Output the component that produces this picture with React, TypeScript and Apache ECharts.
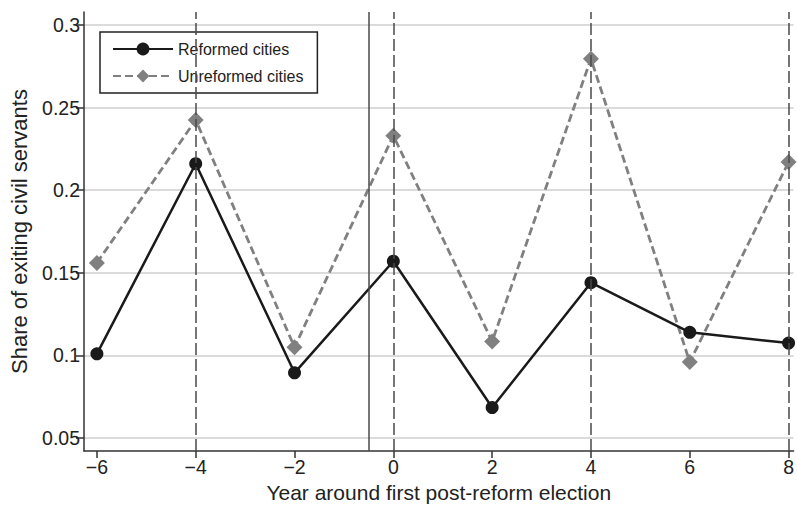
import React, { useEffect, useRef } from "react";
import * as echarts from "echarts";

const years = [-6, -4, -2, 0, 2, 4, 6, 8];
const reformed = [0.101, 0.216, 0.0895, 0.157, 0.0685, 0.144, 0.114, 0.1075];
const unreformed = [0.156, 0.2425, 0.105, 0.233, 0.1085, 0.2795, 0.096, 0.217];
const xTicks = [-6, -4, -2, 0, 2, 4, 6, 8];
const yTicks = [0.05, 0.1, 0.15, 0.2, 0.25, 0.3];
const dashedYears = [-4, 0, 4, 8];
const reformYear = [-0.5];
const seriesNames = ["Reformed cities", "Unreformed cities"];
const xTitle = "Year around first post-reform election";
const yTitle = "Share of exiting civil servants";

const FONT = "'Liberation Sans', Arial, Helvetica, sans-serif";

export default function App() {
  const ref = useRef<HTMLDivElement>(null);
  useEffect(() => {
    if (!ref.current) return;
    const chart = echarts.init(ref.current, null, { renderer: "svg" });
    const fmtX = (v: number) => (v < 0 ? "\u2212" + Math.abs(v) : String(v));
    chart.setOption({
      animation: false,
      backgroundColor: "#ffffff",
      textStyle: { fontFamily: FONT },
      grid: { left: 82, top: 12, right: 0, bottom: 52, containLabel: false },
      legend: {
        data: seriesNames,
        orient: "vertical",
        left: 100,
        top: 32,
        itemWidth: 60,
        itemHeight: 16,
        itemGap: 11,
        padding: [9, 14, 9, 12],
        borderColor: "#222",
        borderWidth: 1.5,
        backgroundColor: "#fff",
        textStyle: { fontSize: 16, color: "#222", fontFamily: FONT },
        selectedMode: false,
      },
      xAxis: {
        type: "value",
        min: -6.261,
        max: 8.1,
        name: xTitle,
        nameLocation: "middle",
        nameGap: 31,
        nameTextStyle: { fontSize: 21, color: "#222", fontFamily: FONT },
        axisLine: { show: true, onZero: false, lineStyle: { color: "#333", width: 1.5 } },
        axisTick: { show: true, customValues: xTicks, length: 7, lineStyle: { color: "#333", width: 1.5 } },
        axisLabel: {
          customValues: xTicks,
          formatter: fmtX,
          fontSize: 19.5,
          color: "#222",
          margin: 6,
          fontFamily: FONT,
        },
        splitLine: { show: false },
      },
      yAxis: {
        type: "value",
        min: 0.0422,
        max: 0.3078,
        name: yTitle,
        nameLocation: "middle",
        nameGap: 54,
        nameTextStyle: { fontSize: 22, color: "#222", fontFamily: FONT },
        axisLine: { show: true, onZero: false, lineStyle: { color: "#333", width: 1.5 } },
        axisTick: { show: true, customValues: yTicks, length: 8, lineStyle: { color: "#333", width: 1.5 } },
        axisLabel: {
          customValues: yTicks,
          fontSize: 19.5,
          color: "#222",
          margin: 4,
          fontFamily: FONT,
        },
        splitLine: { show: true, lineStyle: { color: "#cfcfcf", width: 1.5 } },
      },
      series: [
        {
          type: "line",
          data: [],
          silent: true,
          z: 1,
          markLine: {
            silent: true,
            symbol: ["none", "none"],
            label: { show: false },
            data: [
              ...dashedYears.map((x) => ({
                xAxis: x,
                lineStyle: { color: "#4a4a4a", width: 1.5, type: [12, 4] },
              })),
              ...reformYear.map((x) => ({
                xAxis: x,
                lineStyle: { color: "#4a4a4a", width: 1.5, type: "solid" },
              })),
            ],
          },
        },
        {
          name: seriesNames[1],
          type: "line",
          z: 3,
          data: years.map((y, i) => [y, unreformed[i]]),
          symbol: "diamond",
          symbolSize: 16,
          itemStyle: { color: "#808080" },
          lineStyle: { color: "#808080", width: 2.8, type: [8, 4] },
        },
        {
          name: seriesNames[0],
          type: "line",
          z: 4,
          data: years.map((y, i) => [y, reformed[i]]),
          symbol: "circle",
          symbolSize: 13,
          itemStyle: { color: "#1a1a1a" },
          lineStyle: { color: "#1a1a1a", width: 2.5 },
        },
      ],
    });
    return () => chart.dispose();
  }, []);
  return (
    <div
      ref={ref}
      style={{ position: "fixed", left: 0, top: 0, width: 797, height: 508, background: "#fff" }}
    />
  );
}
